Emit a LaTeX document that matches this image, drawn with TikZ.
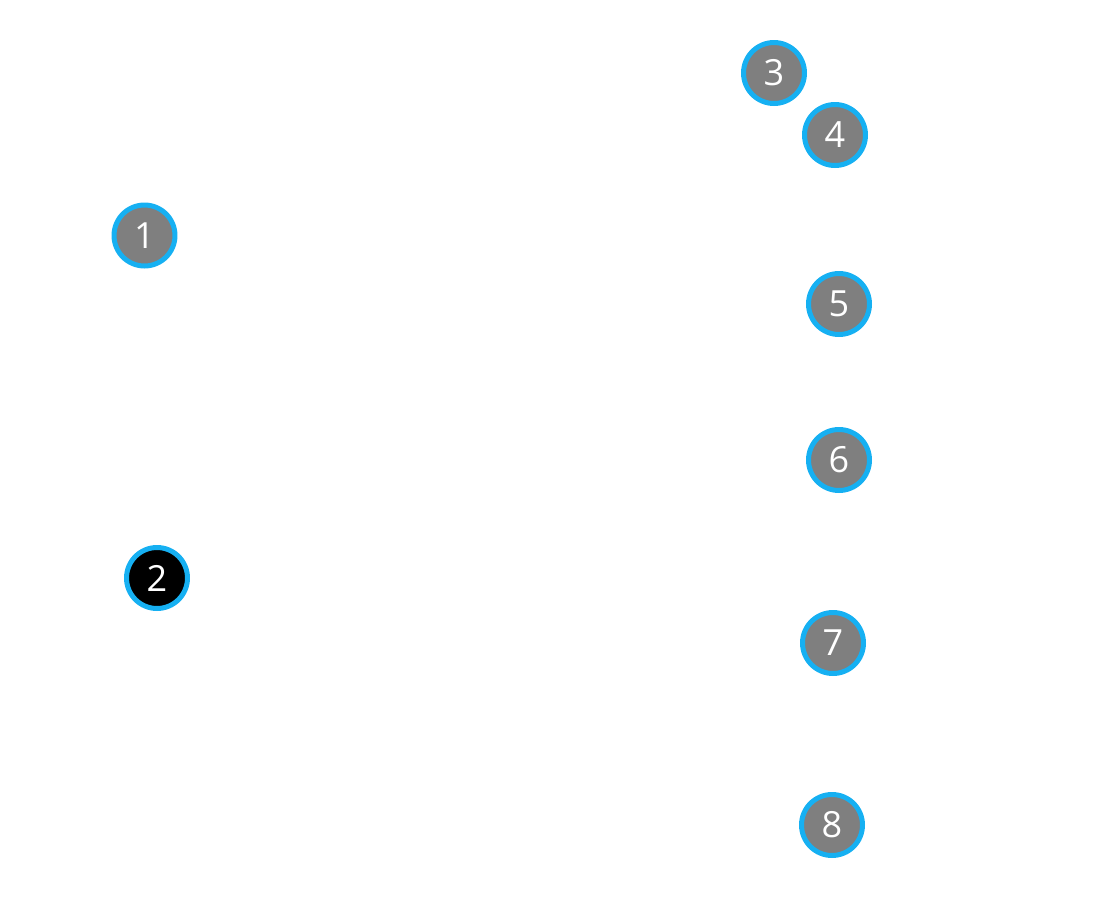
\documentclass[tikz,border=0pt]{standalone}
\usepackage{fontspec}
\setmainfont{Open Sans}
\definecolor{ringblue}{RGB}{22,176,242}
\definecolor{dotgrey}{RGB}{127,127,127}
\tikzset{
	marker/.style={circle, draw=ringblue, line width=0.1cm, fill=dotgrey,
		minimum size=1.22cm, inner sep=0pt, text=white, font=\fontsize{20.5}{24}\selectfont},
	markerdark/.style={marker, fill=black}
}
\begin{document}
\begin{tikzpicture}[x=0.02cm,y=-0.02cm]

	\useasboundingbox (0,0) rectangle (1100,920);

	\node[marker] (m1) at (144.5,235.5) {1};
	\node[markerdark] (m2) at (157,578) {2};
	\node[marker] (m3) at (774,73) {3};
	\node[marker] (m4) at (835,135) {4};
	\node[marker] (m5) at (839,304) {5};
	\node[marker] (m6) at (839,460) {6};
	\node[marker] (m7) at (833,643) {7};
	\node[marker] (m8) at (832,825) {8};

\end{tikzpicture}
\end{document}
